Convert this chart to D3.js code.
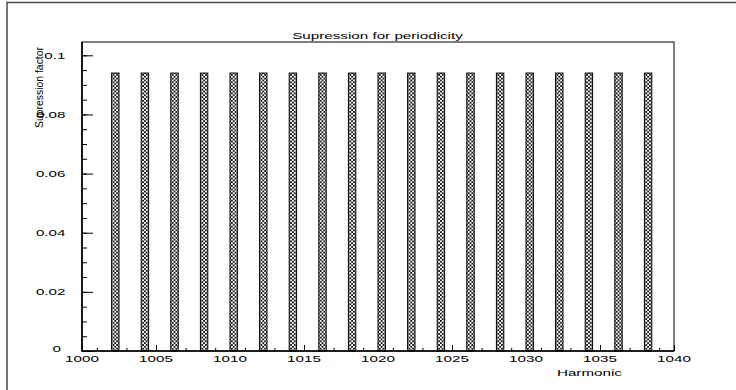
<!DOCTYPE html>
<html>
<head>
<meta charset="utf-8">
<script src="https://cdn.jsdelivr.net/npm/d3@7"></script>
<style>
  html, body { margin: 0; padding: 0; background: #fff; }
  svg { display: block; }
  text { font-family: "Liberation Sans", Arial, sans-serif; fill: #000; }
</style>
</head>
<body>
<svg id="chart" width="736" height="390"></svg>
<script>
// Histogram contents: harmonic number and its suppression factor
const harmonics   = [1002, 1004, 1006, 1008, 1010, 1012, 1014, 1016, 1018, 1020,
                     1022, 1024, 1026, 1028, 1030, 1032, 1034, 1036, 1038];
const suppression = [0.094, 0.094, 0.094, 0.094, 0.094, 0.094, 0.094, 0.094, 0.094, 0.094,
                     0.094, 0.094, 0.094, 0.094, 0.094, 0.094, 0.094, 0.094, 0.094];

// Axis ranges and tick labels
const xRange      = [1000, 1040];
const yRange      = [0, 0.1045];
const xMajorTicks = [1000, 1005, 1010, 1015, 1020, 1025, 1030, 1035, 1040];
const xTickLabels = ["1000", "1005", "1010", "1015", "1020", "1025", "1030", "1035", "1040"];
const yMajorTicks = [0, 0.02, 0.04, 0.06, 0.08, 0.1];
const yTickLabels = ["0", "0.02", "0.04", "0.06", "0.08", "0.1"];
const barWidthUnits = 0.5;

const title  = "Supression for periodicity";
const xTitle = "Harmonic";
const yTitle = "Supression factor";

const svg = d3.select("#chart");
const frame = { left: 82, right: 674, top: 42, bottom: 351 };

const x = d3.scaleLinear().domain(xRange).range([frame.left, frame.right]);
const y = d3.scaleLinear().domain(yRange).range([frame.bottom, frame.top]);

// Pad border (top and left edges)
svg.append("path")
  .attr("d", "M7,390 V2.5 H736")
  .attr("fill", "none")
  .attr("stroke", "#4a4a4a")
  .attr("stroke-width", 1.5);

// Cross-hatch fill for the bars
const bw = x(xRange[0] + barWidthUnits) - x(xRange[0]);
const cell = bw / 2;
const barH = y(0) - y(suppression[0]);
const defs = svg.append("defs");
const pat = defs.append("pattern")
  .attr("id", "hatch")
  .attr("patternUnits", "objectBoundingBox")
  .attr("patternContentUnits", "userSpaceOnUse")
  .attr("width", 0.5)
  .attr("height", cell / barH);
pat.append("rect").attr("width", cell).attr("height", cell).attr("fill", "#fff");
pat.append("path")
  .attr("d", `M0,0 L${cell},${cell} M${cell},0 L0,${cell}`)
  .attr("stroke", "#111")
  .attr("stroke-width", 0.9);

// Ticks (drawn before the bars so the bars cover those at their edges)
const xMinor = d3.range(xRange[0], xRange[1] + 1, 1);
const yMinor = d3.range(0, 0.1001, 0.005);

const axisStyle = g => {
  g.select(".domain").remove();
  g.selectAll(".tick line").attr("stroke", "#000").attr("stroke-width", 1);
  g.selectAll(".tick text").remove();
};

svg.append("g").attr("transform", `translate(0,${frame.bottom})`)
  .call(d3.axisBottom(x).tickValues(xMinor).tickSize(-3).tickFormat(""))
  .call(axisStyle);
svg.append("g").attr("transform", `translate(0,${frame.bottom})`)
  .call(d3.axisBottom(x).tickValues(xMajorTicks).tickSize(-6).tickFormat(""))
  .call(axisStyle);
svg.append("g").attr("transform", `translate(${frame.left},0)`)
  .call(d3.axisLeft(y).tickValues(yMinor).tickSize(-5).tickFormat(""))
  .call(axisStyle);
svg.append("g").attr("transform", `translate(${frame.left},0)`)
  .call(d3.axisLeft(y).tickValues(yMajorTicks).tickSize(-11).tickFormat(""))
  .call(axisStyle);

// Bars
svg.append("g").selectAll("rect")
  .data(harmonics.map((h, i) => ({ h, v: suppression[i] })))
  .join("rect")
  .attr("x", d => x(d.h))
  .attr("y", d => y(d.v))
  .attr("width", d => x(d.h + barWidthUnits) - x(d.h))
  .attr("height", d => y(0) - y(d.v))
  .attr("fill", "url(#hatch)")
  .attr("stroke", "#000")
  .attr("stroke-width", 1);

// Frame
svg.append("rect")
  .attr("x", frame.left).attr("y", frame.top)
  .attr("width", frame.right - frame.left)
  .attr("height", frame.bottom - frame.top)
  .attr("fill", "none").attr("stroke", "#000").attr("stroke-width", 1);
svg.append("path")
  .attr("d", `M${frame.left},${frame.top} V${frame.bottom} H${frame.right}`)
  .attr("fill", "none").attr("stroke", "#000").attr("stroke-width", 1.6);

// Wide lettering in the style of the plotting package: stretch each string horizontally
function wideText(parent, str, px, py, size, stretch, anchor) {
  const t = parent.append("text")
    .attr("x", px).attr("y", py)
    .attr("font-size", size)
    .attr("text-anchor", anchor)
    .text(str);
  const w = t.node().getComputedTextLength();
  t.attr("textLength", w * stretch).attr("lengthAdjust", "spacingAndGlyphs");
  return t;
}

const labels = svg.append("g");

// X tick labels
xMajorTicks.forEach((v, i) => {
  wideText(labels, xTickLabels[i], x(v), 362, 9.5, 1.6, "middle");
});

// Y tick labels
yMajorTicks.forEach((v, i) => {
  if (v === 0) {
    wideText(labels, yTickLabels[i], 61, y(v) + 1, 9.5, 1.6, "end");
  } else {
    wideText(labels, yTickLabels[i], 65.5, y(v) + 3.5, 9.5, 1.6, "end");
  }
});

// Titles
wideText(labels, title, 377.5, 38.5, 9.5, 1.6, "middle");
wideText(labels, xTitle, 622, 376, 9.5, 1.6, "end");

labels.append("text")
  .attr("transform", "translate(43,128) rotate(-90)")
  .attr("font-size", 11)
  .attr("text-anchor", "start")
  .attr("textLength", 81)
  .attr("lengthAdjust", "spacingAndGlyphs")
  .text(yTitle);
</script>
</body>
</html>
